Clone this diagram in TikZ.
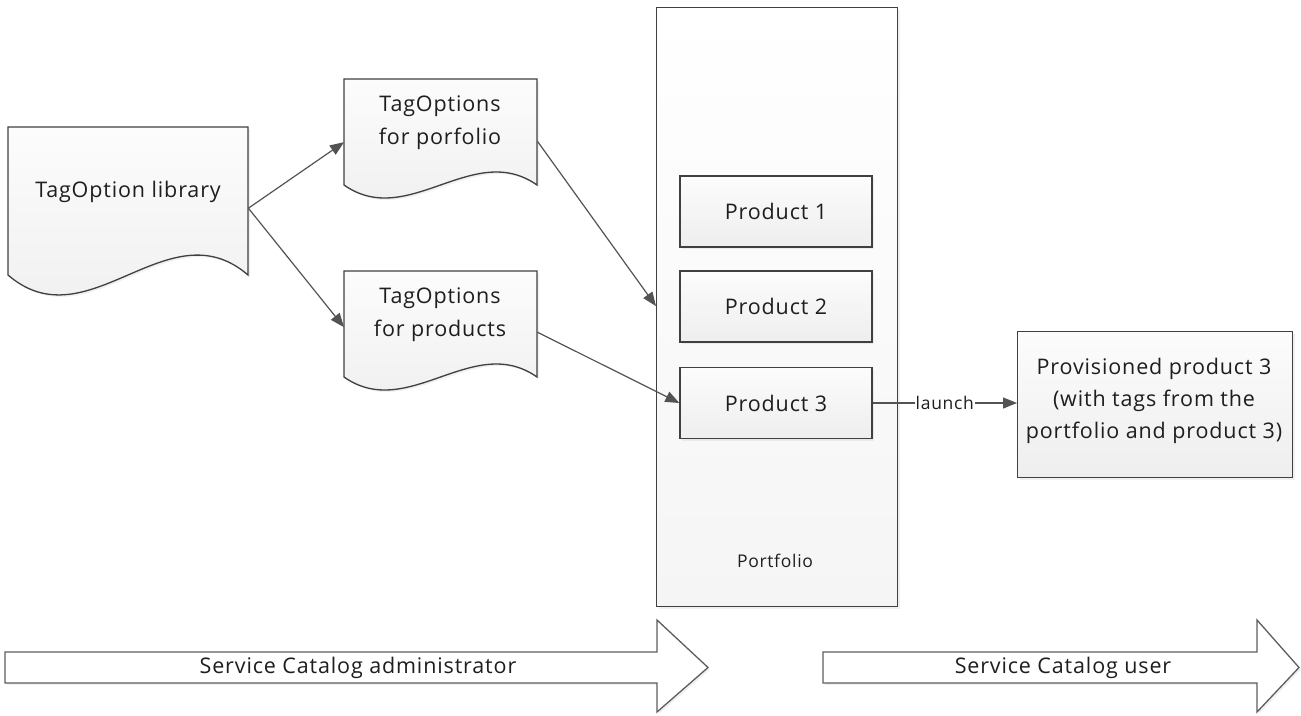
\documentclass[tikz,border=0pt]{standalone}
\usepackage{fontspec}
\setmainfont[LetterSpace=4]{Open Sans}
\usetikzlibrary{arrows.meta,shadows,calc}
\definecolor{edge}{RGB}{64,64,64}
\definecolor{ink}{RGB}{30,30,30}
\definecolor{shtop}{RGB}{252,252,252}
\definecolor{shbot}{RGB}{238,238,238}
\tikzset{
  shapestyle/.style={draw=edge, line width=1.3pt, top color=shtop, bottom color=shbot,
     drop shadow={opacity=0.12, shadow xshift=2pt, shadow yshift=-2pt}},
  boxstyle/.style={shapestyle, minimum width=192pt, minimum height=71pt, inner sep=0pt,
     font=\fontsize{21.5}{26}\selectfont, text=ink},
  anchorbox/.style={draw=none, inner sep=0pt},
  doctext/.style={font=\fontsize{21.5}{33}\selectfont, text=ink, align=center},
  conn/.style={draw=edge!90, line width=1.2pt, -{Triangle[length=14pt,width=11pt]}},
  bigarrow/.style={draw=edge!85, line width=1.3pt, fill=white,
     drop shadow={opacity=0.12, shadow xshift=2pt, shadow yshift=-2pt}},
  smalltext/.style={font=\fontsize{17.5}{20}\selectfont, text=ink},
}
\begin{document}
\begin{tikzpicture}[x=1pt,y=-1pt]
\useasboundingbox (0,0) rectangle (1301,715);
% Portfolio container
\node[shapestyle, top color=white, bottom color={rgb,255:red,245;green,245;blue,245}, minimum width=241pt, minimum height=599pt, inner sep=0pt, anchor=north west] (port) at (656,7) {};
\node[smalltext] (portlbl) at (775,561) {Portfolio};
% Products
\node[boxstyle] (p1) at (776,211.5) {Product 1};
\node[boxstyle] (p2) at (776,306.5) {Product 2};
\node[boxstyle] (p3) at (776,403) {Product 3};
% Provisioned product
\node[shapestyle, minimum width=275pt, minimum height=146pt, inner sep=0pt, anchor=north west] (prov) at (1017,331) {};
\node[doctext, font=\fontsize{21.5}{32}\selectfont] (provtxt) at (1154,401) {Provisioned product 3\\(with tags from the\\portfolio and product 3)};
% Document shapes
\path[shapestyle] (8,127) -- (248,127) -- (248,275) .. controls (168,206) and (88,344) .. (8,275) -- cycle;
\node[anchorbox, minimum width=240pt, minimum height=166pt, anchor=north west] (lib) at (8,127) {};
\node[doctext] (libtxt) at (128,192) {TagOption library};
\path[shapestyle] (344,79) -- (537,79) -- (537,185) .. controls (473,140) and (408,230) .. (344,185) -- cycle;
\node[anchorbox, minimum width=193pt, minimum height=124pt, anchor=north west] (tpf) at (344,79) {};
\node[doctext] (tpftxt) at (440,123) {TagOptions\\for porfolio};
\path[shapestyle] (344,271) -- (537,271) -- (537,377) .. controls (473,332) and (408,422) .. (344,377) -- cycle;
\node[anchorbox, minimum width=193pt, minimum height=124pt, anchor=north west] (tpr) at (344,271) {};
\node[doctext] (tprtxt) at (440,315) {TagOptions\\for products};
% Connectors
\coordinate (libout) at ($(lib.east)+(0,-2)$);
\draw[conn] (libout) -- ($(tpf.west)+(0,1)$);
\draw[conn] (libout) -- ($(tpr.west)+(0,-6)$);
\draw[conn] ($(tpf.east)+(0,0)$) -- ($(port.west)+(0,-1)$);
\draw[conn] ($(tpr.east)+(0,-1)$) -- (p3.west);
\draw[conn] (p3.east) -- node[smalltext, fill=white, inner sep=1pt] (launch) {launch} (prov.west |- p3.east);
% Bottom arrows
\path[bigarrow] (5,652) -- (657,652) -- (657,620) -- (708,667.5) -- (657,712) -- (657,683) -- (5,683) -- cycle;
\node[anchorbox, minimum width=652pt, minimum height=31pt, anchor=north west] (admin) at (5,652) {};
\node[doctext] (admintxt) at (358,668) {Service Catalog administrator};
\path[bigarrow] (823,652) -- (1257,652) -- (1257,620) -- (1299,667.5) -- (1257,712) -- (1257,683) -- (823,683) -- cycle;
\node[anchorbox, minimum width=434pt, minimum height=31pt, anchor=north west] (user) at (823,652) {};
\node[doctext] (usertxt) at (1063,668) {Service Catalog user};
\end{tikzpicture}
\end{document}
